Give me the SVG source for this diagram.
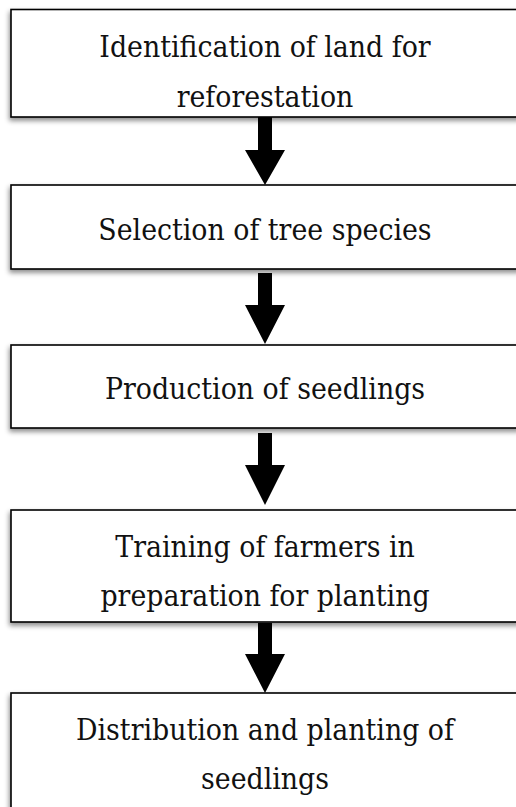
<svg xmlns="http://www.w3.org/2000/svg" width="516" height="807" viewBox="0 0 516 807">
  <defs>
    <filter id="shadow" x="-5%" y="-10%" width="110%" height="130%">
      <feDropShadow dx="-1" dy="3" stdDeviation="2.5" flood-color="#000" flood-opacity="0.45"/>
    </filter>
  </defs>
  <style>
    .box { fill: #fff; stroke: #000; stroke-width: 1.6; filter: url(#shadow); }
    .label { font-family: "DejaVu Serif Condensed", "DejaVu Serif", "Liberation Serif", serif; font-stretch: condensed; font-size: 29.8px; fill: #111; text-anchor: middle; }
    .arrow { fill: #000; stroke: none; }
  </style>
  <rect width="516" height="807" fill="#fff"/>

  <g id="step1">
    <rect class="box" x="11" y="9.5" width="510" height="107.5"/>
    <text class="label" x="265" y="56.5">Identification of land for</text>
    <text class="label" x="265" y="106.5">reforestation</text>
  </g>

  <g id="step2">
    <rect class="box" x="11" y="185" width="510" height="84"/>
    <text class="label" x="265" y="240">Selection of tree species</text>
  </g>

  <g id="step3">
    <rect class="box" x="11" y="345" width="510" height="83"/>
    <text class="label" x="265" y="399">Production of seedlings</text>
  </g>

  <g id="step4">
    <rect class="box" x="11" y="510" width="510" height="112"/>
    <text class="label" x="265" y="557">Training of farmers in</text>
    <text class="label" x="265" y="606">preparation for planting</text>
  </g>

  <g id="step5">
    <rect class="box" x="11" y="693" width="510" height="130"/>
    <text class="label" x="265" y="740">Distribution and planting of</text>
    <text class="label" x="265" y="789">seedlings</text>
  </g>

  <g id="connectors">
    <polygon class="arrow" points="258,117 272,117 272,150 285,150 265,185 245,150 258,150"/>
    <polygon class="arrow" points="258,273 272,273 272,305 285,305 265,344 245,305 258,305"/>
    <polygon class="arrow" points="258,433 272,433 272,465 285,465 265,505 245,465 258,465"/>
    <polygon class="arrow" points="258,623 272,623 272,654 285,654 265,693 245,654 258,654"/>
  </g>
</svg>
